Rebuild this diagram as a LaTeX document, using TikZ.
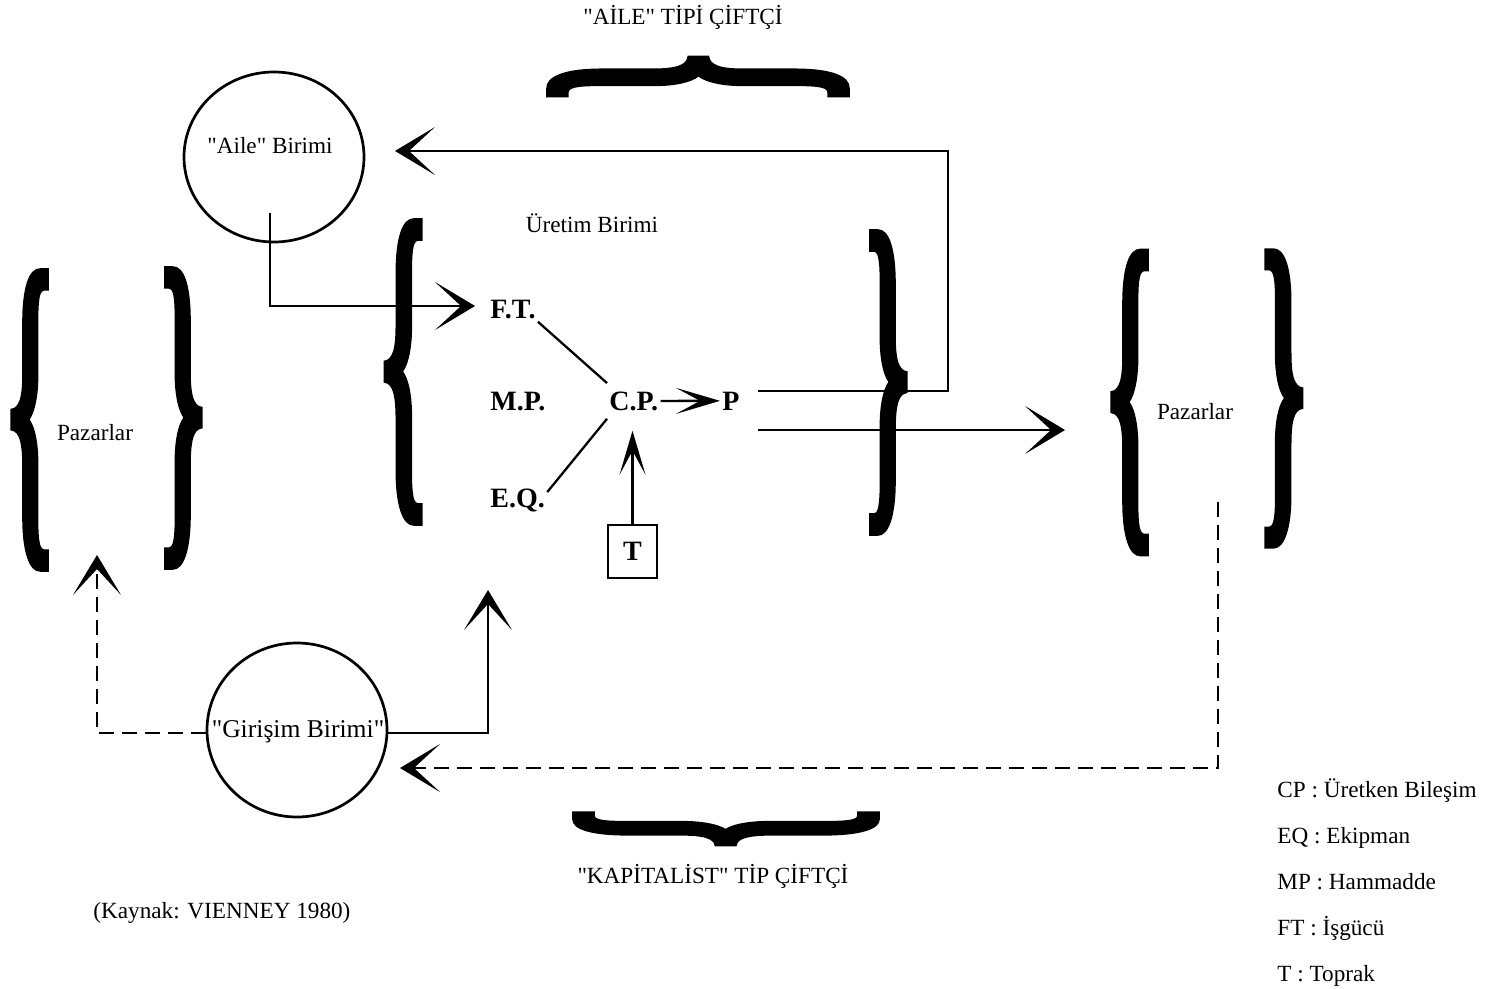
\documentclass[tikz,border=0pt]{standalone}
\usepackage{fontspec}
\usepackage{graphicx}
\setmainfont{Liberation Serif}
\newfontfamily\plainfont{Liberation Serif}
\newfontfamily\bracefont{Liberation Serif}[UprightFont=* Bold, FakeBold=2]
\usetikzlibrary{arrows.meta,shapes.geometric,calc}
\newcommand\qq{{\plainfont"}}
\newcommand\mybraceL[2]{\resizebox*{#1}{#2}{\bracefont\{}}
\newcommand\mybraceR[2]{\resizebox*{#1}{#2}{\bracefont\}}}
\begin{document}
\begin{tikzpicture}[x=0.5pt,y=-0.5pt,
  txt/.style={font=\fontsize{11.6}{14}\selectfont, inner sep=0pt},
  lbl/.style={font=\fontsize{14}{16}\selectfont\bfseries, inner sep=1pt},
  ln/.style={line width=1.15pt},
  dsh/.style={line width=1.3pt, dash pattern=on 7.5pt off 4pt},
  bigarr/.style={-{Stealth[length=20pt,width=24pt,inset=13pt]}},
  narr/.style={-{Stealth[length=22pt,width=13pt,inset=12pt]}},
  unit/.style={draw, ellipse, line width=1.35pt, inner sep=0pt},
  brk/.style={inner sep=0pt}]
\useasboundingbox (0,0) rectangle (1493,989);

% braces
\node[brk] (b1) at (30,420) {\mybraceL{22pt}{148pt}};
\node[brk] (b2) at (183,418) {\mybraceR{22pt}{148pt}};
\node[brk] (b3) at (403.5,372) {\mybraceL{22.5pt}{150pt}};
\node[brk] (b4) at (888,382.5) {\mybraceR{22pt}{149.5pt}};
\node[brk] (b5) at (1130,402.5) {\mybraceL{22pt}{150pt}};
\node[brk] (b6) at (1283.5,398.5) {\mybraceR{22.5pt}{146.5pt}};
\node[brk] (b7) at (698,77) {\rotatebox{-90}{\mybraceL{24pt}{148pt}}};
\node[brk] (b8) at (726,828.5) {\rotatebox{90}{\mybraceL{20pt}{150pt}}};

% texts
\node[txt, anchor=base] (title) at (683,25) {\qq AİLE\qq{} TİPİ ÇİFTÇİ};
\node[txt, anchor=base] (kap) at (713,883) {\qq KAPİTALİST\qq{} TİP ÇİFTÇİ};
\node[txt, anchor=base west] (src) at (93,918) {(Kaynak: VIENNEY 1980)};
\node[txt, anchor=base] (uret) at (592,233) {Üretim Birimi};
\node[txt, anchor=base] (pzl) at (95,440) {Pazarlar};
\node[txt, anchor=base] (pzr) at (1195,420) {Pazarlar};

% units
\node[unit, minimum width=90pt, minimum height=85pt] (aile) at (274,157) {};
\node[txt, anchor=base] (ailet) at (270,154) {\qq Aile\qq{} Birimi};
\node[unit, minimum width=90pt, minimum height=87pt] (gir) at (297,730) {};
\node[txt, font=\fontsize{12.8}{15}\selectfont, anchor=base] (girt) at (298,737) {\qq Girişim Birimi\qq};

% production labels
\node[lbl, anchor=base west] (ft) at (488,319) {F.T.};
\node[lbl, anchor=base west] (mp) at (488,410) {M.P.};
\node[lbl, anchor=base west] (eq) at (488,507) {E.Q.};
\node[lbl, anchor=base west] (cp) at (607,410) {C.P.};
\node[lbl, anchor=base west] (p) at (720,410) {P};
\node[lbl, draw, ln, minimum width=24.5pt, minimum height=26.5pt] (t) at (632.5,551.5) {T};

% legend
\node[txt, anchor=base west] (l1) at (1277,797) {CP : Üretken Bileşim};
\node[txt, anchor=base west] (l2) at (1277,843) {EQ : Ekipman};
\node[txt, anchor=base west] (l3) at (1277,889) {MP : Hammadde};
\node[txt, anchor=base west] (l4) at (1277,935) {FT : İşgücü};
\node[txt, anchor=base west] (l5) at (1277,981) {T : Toprak};

% coordinates
\coordinate (a0) at (270,213);
\coordinate (ftTip) at (475,306);
\coordinate (p1) at (758,391);
\coordinate (k1) at (948,391);
\coordinate (k2) at (948,151);
\coordinate (aTip) at (395,151);
\coordinate (p2) at (758,430);
\coordinate (mTip) at (1065,430);
\coordinate (d0) at (1218,502);
\coordinate (d1) at (1218,768);
\coordinate (gTip) at (400,768);
\coordinate (e1) at (97,733);
\coordinate (lTip) at (97,555);
\coordinate (e2) at (488,733);
\coordinate (uTip) at (488,590);

% connectors
\draw[ln, bigarr] (a0) |- (ftTip);
\draw[ln, bigarr] (p1) -- (k1) -- (k2) -- (aTip);
\draw[ln, bigarr] (p2) -- (mTip);
\draw[ln] (ft.south east) -- ([yshift=3pt]cp.north west);
\draw[ln] ([yshift=-3pt]eq.north east) -- ([yshift=-3pt]cp.south west);
\draw[ln, narr] (cp.east) -- (p.west);
\draw[ln, narr, shorten >=9pt] (t.north) -- (t.north |- cp.south);
\draw[dsh, bigarr] (d0) -- (d1) -- (gTip);
\draw[dsh, bigarr] ([yshift=-1.5pt]gir.west) -- (e1) -- (lTip);
\draw[ln, bigarr] ([yshift=-1.5pt]gir.east) -- (e2) -- (uTip);
\end{tikzpicture}
\end{document}
